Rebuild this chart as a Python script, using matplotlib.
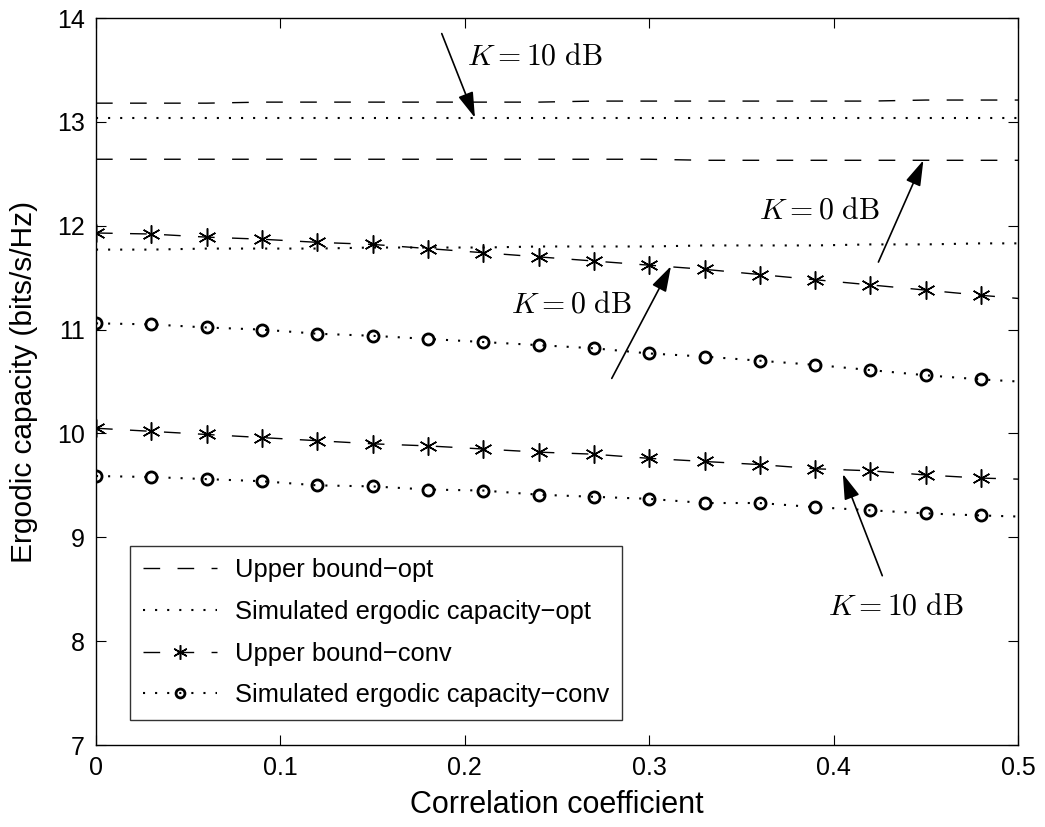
import matplotlib
matplotlib.use("Agg")
import matplotlib.pyplot as plt

plt.rcParams['font.family'] = ['Liberation Sans', 'DejaVu Sans']
plt.rcParams['mathtext.fontset'] = 'cm'

# ---- data ----
rho = [0.00, 0.03, 0.06, 0.09, 0.12, 0.15, 0.18, 0.21, 0.24, 0.27, 0.30, 0.33,
       0.36, 0.39, 0.42, 0.45, 0.48, 0.50]

ub_opt_k10 = [13.18, 13.18, 13.18, 13.19, 13.19, 13.19, 13.19, 13.19, 13.19, 13.20,
              13.20, 13.20, 13.20, 13.20, 13.20, 13.21, 13.21, 13.21]
sim_opt_k10 = [13.04, 13.04, 13.04, 13.04, 13.04, 13.04, 13.04, 13.04, 13.04, 13.04,
               13.04, 13.04, 13.04, 13.04, 13.04, 13.04, 13.04, 13.04]
ub_opt_k0 = [12.64, 12.64, 12.64, 12.64, 12.64, 12.64, 12.64, 12.64, 12.64, 12.64,
             12.64, 12.63, 12.63, 12.63, 12.63, 12.63, 12.63, 12.63]
sim_opt_k0 = [11.77, 11.77, 11.78, 11.78, 11.78, 11.79, 11.79, 11.79, 11.80, 11.80,
              11.80, 11.81, 11.81, 11.81, 11.82, 11.82, 11.83, 11.83]

ub_conv_k0 = [11.93, 11.92, 11.89, 11.87, 11.84, 11.82, 11.78, 11.74, 11.70, 11.66,
              11.62, 11.58, 11.53, 11.48, 11.43, 11.38, 11.33, 11.30]
sim_conv_k0 = [11.06, 11.05, 11.02, 11.00, 10.96, 10.94, 10.91, 10.88, 10.85, 10.82,
               10.77, 10.74, 10.70, 10.66, 10.61, 10.56, 10.52, 10.50]
ub_conv_k10 = [10.05, 10.02, 9.99, 9.96, 9.93, 9.90, 9.88, 9.85, 9.82, 9.80,
               9.76, 9.73, 9.70, 9.66, 9.64, 9.60, 9.57, 9.56]
sim_conv_k10 = [9.59, 9.58, 9.56, 9.54, 9.50, 9.49, 9.46, 9.45, 9.41, 9.39,
                9.37, 9.33, 9.33, 9.29, 9.26, 9.23, 9.21, 9.20]

xticks = [0, 0.1, 0.2, 0.3, 0.4, 0.5]
xtick_labels = ['0', '0.1', '0.2', '0.3', '0.4', '0.5']
yticks = [7, 8, 9, 10, 11, 12, 13, 14]
ytick_labels = ['7', '8', '9', '10', '11', '12', '13', '14']

labels = ['Upper bound\u2212opt', 'Simulated ergodic capacity\u2212opt',
          'Upper bound\u2212conv', 'Simulated ergodic capacity\u2212conv']

# annotations: (text, text_x, text_y, tail_x, tail_y, head_x, head_y)
ann_text = [r'$K = 10\ \mathrm{dB}$', r'$K = 0\ \mathrm{dB}$',
            r'$K = 0\ \mathrm{dB}$', r'$K = 10\ \mathrm{dB}$']
ann_text_xy = [(0.2380, 13.63), (0.3925, 12.15), (0.2580, 11.24), (0.4340, 8.33)]
ann_tail_xy = [(0.1875, 13.85), (0.4243, 11.65), (0.2797, 10.53), (0.4264, 8.63)]
ann_head_xy = [(0.2055, 13.04), (0.4487, 12.63), (0.3118, 11.61), (0.4050, 9.61)]

# ---- figure ----
fig = plt.figure(figsize=(10.45, 8.27), dpi=100)
ax = fig.add_axes([96/1045, (827-745)/827, (1018-96)/1045, (745-18)/827])

dash = (0, (12, 12.5))
dot = (0, (1.0, 4.8))
mk_idx = list(range(17))

l1, = ax.plot(rho, ub_opt_k10, color='k', lw=1.0, linestyle=dash)
ax.plot(rho, ub_opt_k0, color='k', lw=1.0, linestyle=dash)
l2, = ax.plot(rho, sim_opt_k10, color='k', lw=1.5, linestyle=dot)
ax.plot(rho, sim_opt_k0, color='k', lw=1.5, linestyle=dot)

star = (6, 2, 0)
l3, = ax.plot(rho, ub_conv_k0, color='k', lw=1.0, linestyle=dash,
              marker=star, markersize=13, markeredgewidth=1.1, markevery=mk_idx)
ax.plot(rho, ub_conv_k10, color='k', lw=1.0, linestyle=dash,
        marker=star, markersize=13, markeredgewidth=1.1, markevery=mk_idx)
l4, = ax.plot(rho, sim_conv_k0, color='k', lw=1.5, linestyle=dot,
              marker='o', markersize=8, markerfacecolor='none', markeredgewidth=2.0,
              markevery=mk_idx)
ax.plot(rho, sim_conv_k10, color='k', lw=1.5, linestyle=dot,
        marker='o', markersize=8, markerfacecolor='none', markeredgewidth=2.0,
        markevery=mk_idx)

for t, txy, tail, head in zip(ann_text, ann_text_xy, ann_tail_xy, ann_head_xy):
    ax.text(txy[0], txy[1], t, ha='center', va='center', fontsize=21.5, color='k')
    ax.annotate('', xy=head, xytext=tail,
                arrowprops=dict(arrowstyle='-|>,head_length=1.3,head_width=0.4',
                                mutation_scale=12, color='k', lw=1.2,
                                shrinkA=0, shrinkB=0))

ax.set_xlim(0, 0.5)
ax.set_ylim(7, 14)
ax.set_xticks(xticks)
ax.set_xticklabels(xtick_labels)
ax.set_yticks(yticks)
ax.set_yticklabels(ytick_labels)
ax.tick_params(direction='in', length=7, width=0.8, top=True, right=True,
               labelsize=18, pad=8)
for s in ax.spines.values():
    s.set_linewidth(1.0)

ax.set_xlabel('Correlation coefficient', fontsize=22, labelpad=7)
ax.set_ylabel('Ergodic capacity (bits/s/Hz)', fontsize=21.5, labelpad=14)

leg = ax.legend([l1, l2, l3, l4], labels, loc='lower left',
                bbox_to_anchor=((130-96)/922, (745-720)/727),
                fontsize=18.4, frameon=True, fancybox=False, edgecolor='k',
                handlelength=2.9, handletextpad=0.7, labelspacing=0.69,
                borderpad=0.5, borderaxespad=0.0, markerscale=0.8)
leg.get_frame().set_linewidth(1.0)

fig.savefig('out.png', dpi=100)
